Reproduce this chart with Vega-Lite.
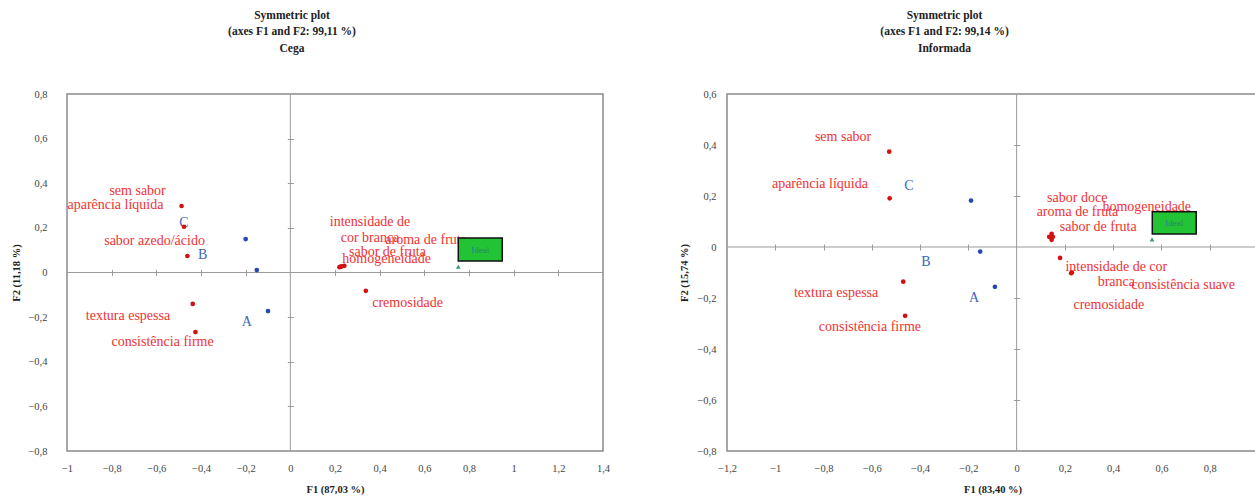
{
  "$schema": "https://vega.github.io/schema/vega-lite/v6.json",
  "background": "white",
  "padding": {"left": 11, "top": 8, "right": 0, "bottom": 0},
  "spacing": 68,
  "config": {
    "font": "Liberation Serif",
    "view": {"stroke": "#8a8a8a", "strokeWidth": 1.5},
    "axis": {
      "labelFont": "Liberation Serif", "labelFontSize": 10.5, "labelColor": "#444444",
      "titleFont": "Liberation Serif", "titleFontSize": 10.5, "titleFontWeight": "bold", "titleColor": "#222222",
      "labelFlush": false, "labelOverlap": false, "labelBound": false, "grid": false
    },
    "title": {"font": "Liberation Serif", "fontSize": 11.5, "fontWeight": "bold", "color": "#222222", "lineHeight": 16.5}
  },
  "datasets": {
    "one": [{"z": 0}],
    "ptsCega": [
      {"name": "sem sabor", "kind": "attr", "x": -0.487, "y": 0.298},
      {"name": "aparência líquida", "kind": "attr", "x": -0.476, "y": 0.205},
      {"name": "sabor azedo/ácido", "kind": "attr", "x": -0.461, "y": 0.074},
      {"name": "textura espessa", "kind": "attr", "x": -0.437, "y": -0.141},
      {"name": "consistência firme", "kind": "attr", "x": -0.425, "y": -0.267},
      {"name": "intensidade de cor branca", "kind": "attr", "x": 0.220, "y": 0.024},
      {"name": "aroma de fruta", "kind": "attr", "x": 0.242, "y": 0.030},
      {"name": "sabor de fruta", "kind": "attr", "x": 0.232, "y": 0.028},
      {"name": "homogeneidade", "kind": "attr", "x": 0.226, "y": 0.026},
      {"name": "cremosidade", "kind": "attr", "x": 0.338, "y": -0.082},
      {"name": "A", "kind": "prod", "x": -0.100, "y": -0.173},
      {"name": "B", "kind": "prod", "x": -0.150, "y": 0.011},
      {"name": "C", "kind": "prod", "x": -0.200, "y": 0.150},
      {"name": "Ideal", "kind": "ideal", "x": 0.752, "y": 0.026}
    ],
    "lblCega": [
      {"label": "sem sabor", "kind": "attr", "x": -0.684, "y": 0.365},
      {"label": "aparência líquida", "kind": "attr", "x": -0.783, "y": 0.303},
      {"label": "sabor azedo/ácido", "kind": "attr", "x": -0.608, "y": 0.141},
      {"label": "textura espessa", "kind": "attr", "x": -0.727, "y": -0.194},
      {"label": "consistência firme", "kind": "attr", "x": -0.572, "y": -0.312},
      {"label": "intensidade de\ncor branca", "kind": "attr", "x": 0.357, "y": 0.226},
      {"label": "aroma de fruta", "kind": "attr", "x": 0.608, "y": 0.146},
      {"label": "sabor de fruta", "kind": "attr", "x": 0.435, "y": 0.093},
      {"label": "homogeneidade", "kind": "attr", "x": 0.431, "y": 0.061},
      {"label": "cremosidade", "kind": "attr", "x": 0.525, "y": -0.135},
      {"label": "C", "kind": "prod", "x": -0.476, "y": 0.222},
      {"label": "B", "kind": "prod", "x": -0.392, "y": 0.078},
      {"label": "A", "kind": "prod", "x": -0.195, "y": -0.221}
    ],
    "boxCega": [{"label": "Ideal", "x1": 0.752, "x2": 0.949, "y1": 0.052, "y2": 0.155, "x": 0.850, "y": 0.103}],
    "ptsInf": [
      {"name": "sem sabor", "kind": "attr", "x": -0.528, "y": 0.374},
      {"name": "aparência líquida", "kind": "attr", "x": -0.526, "y": 0.191},
      {"name": "textura espessa", "kind": "attr", "x": -0.470, "y": -0.136},
      {"name": "consistência firme", "kind": "attr", "x": -0.462, "y": -0.270},
      {"name": "sabor doce", "kind": "attr", "x": 0.145, "y": 0.052},
      {"name": "aroma de fruta", "kind": "attr", "x": 0.135, "y": 0.040},
      {"name": "sabor de fruta", "kind": "attr", "x": 0.145, "y": 0.028},
      {"name": "homogeneidade", "kind": "attr", "x": 0.150, "y": 0.040},
      {"name": "intensidade de cor branca", "kind": "attr", "x": 0.180, "y": -0.043},
      {"name": "consistência suave", "kind": "attr", "x": 0.229, "y": -0.100},
      {"name": "cremosidade", "kind": "attr", "x": 0.226, "y": -0.103},
      {"name": "A", "kind": "prod", "x": -0.090, "y": -0.156},
      {"name": "B", "kind": "prod", "x": -0.151, "y": -0.018},
      {"name": "C", "kind": "prod", "x": -0.189, "y": 0.182},
      {"name": "Ideal", "kind": "ideal", "x": 0.561, "y": 0.030}
    ],
    "lblInf": [
      {"label": "sem sabor", "kind": "attr", "x": -0.719, "y": 0.430},
      {"label": "aparência líquida", "kind": "attr", "x": -0.815, "y": 0.247},
      {"label": "textura espessa", "kind": "attr", "x": -0.748, "y": -0.180},
      {"label": "consistência firme", "kind": "attr", "x": -0.608, "y": -0.315},
      {"label": "sabor doce", "kind": "attr", "x": 0.251, "y": 0.191},
      {"label": "aroma de fruta", "kind": "attr", "x": 0.252, "y": 0.136},
      {"label": "sabor de fruta", "kind": "attr", "x": 0.338, "y": 0.077},
      {"label": "homogeneidade", "kind": "attr", "x": 0.539, "y": 0.156},
      {"label": "intensidade de cor\nbranca", "kind": "attr", "x": 0.413, "y": -0.080},
      {"label": "consistência suave", "kind": "attr", "x": 0.690, "y": -0.149},
      {"label": "cremosidade", "kind": "attr", "x": 0.382, "y": -0.227},
      {"label": "C", "kind": "prod", "x": -0.446, "y": 0.240},
      {"label": "B", "kind": "prod", "x": -0.376, "y": -0.060},
      {"label": "A", "kind": "prod", "x": -0.176, "y": -0.201}
    ],
    "boxInf": [{"label": "Ideal", "x1": 0.562, "x2": 0.744, "y1": 0.051, "y2": 0.138, "x": 0.653, "y": 0.095}]
  },
  "hconcat": [
    {
      "width": 536, "height": 357,
      "title": {"text": ["Symmetric plot", "(axes F1 and F2: 99,11 %)", "Cega"], "anchor": "middle", "frame": "group", "dx": -43, "offset": 35},
      "resolve": {"axis": {"x": "independent", "y": "independent"}, "scale": {"color": "independent", "shape": "independent"}},
      "layer": [
        {
          "data": {"name": "one"},
          "mark": {"type": "rule", "color": "#9a9a9a", "strokeWidth": 1},
          "encoding": {
            "x": {"datum": 0, "type": "quantitative", "scale": {"domain": [-1, 1.4], "nice": false, "zero": false},
              "axis": {"orient": "bottom", "offset": -181.5, "labels": false, "domain": false, "ticks": true, "tickSize": 6, "tickColor": "#9a9a9a", "title": null,
                "values": [-0.8, -0.6, -0.4, -0.2, 0.2, 0.4, 0.6, 0.8, 1, 1.2]}}
          }
        },
        {
          "data": {"name": "one"},
          "mark": {"type": "rule", "color": "#9a9a9a", "strokeWidth": 1},
          "encoding": {
            "y": {"datum": 0, "type": "quantitative", "scale": {"domain": [-0.8, 0.8], "nice": false, "zero": false},
              "axis": {"orient": "left", "offset": -226.33, "labels": false, "domain": false, "ticks": true, "tickSize": 6, "tickColor": "#9a9a9a", "title": null,
                "values": [-0.6, -0.4, -0.2, 0.2, 0.4, 0.6]}}
          }
        },
        {
          "data": {"name": "lblCega"},
          "mark": {"type": "text", "fontSize": 14, "font": "Liberation Serif", "lineBreak": "\n", "lineHeight": 16, "baseline": "middle", "align": "center"},
          "encoding": {
            "x": {"field": "x", "type": "quantitative", "axis": null},
            "y": {"field": "y", "type": "quantitative", "axis": null},
            "text": {"field": "label"},
            "color": {"field": "kind", "type": "nominal", "scale": {"domain": ["attr", "prod"], "range": ["#f03232", "#3d66b8"]}, "legend": null}
          }
        },
        {
          "data": {"name": "ptsCega"},
          "mark": {"type": "point", "filled": true, "opacity": 1},
          "encoding": {
            "x": {"field": "x", "type": "quantitative",
              "axis": {"title": "F1 (87,03 %)", "orient": "bottom", "ticks": false, "tickSize": 0, "domain": false, "labelPadding": 12, "titlePadding": 11,
                "values": [-1, -0.8, -0.6, -0.4, -0.2, 0, 0.2, 0.4, 0.6, 0.8, 1, 1.2, 1.4],
                "labelExpr": "replace(format(datum.value, '~g'), '.', ',')"}},
            "y": {"field": "y", "type": "quantitative",
              "axis": {"title": "F2 (11,18 %)", "orient": "left", "ticks": false, "tickSize": 0, "domain": false, "labelPadding": 20, "titlePadding": 6,
                "values": [-0.8, -0.6, -0.4, -0.2, 0, 0.2, 0.4, 0.6, 0.8],
                "labelExpr": "replace(format(datum.value, '~g'), '.', ',')"}},
            "color": {"field": "kind", "type": "nominal", "scale": {"domain": ["attr", "prod", "ideal"], "range": ["#d41010", "#2447b0", "#3a9a6a"]}, "legend": null},
            "shape": {"field": "kind", "type": "nominal", "scale": {"domain": ["attr", "prod", "ideal"], "range": ["circle", "circle", "triangle-up"]}, "legend": null},
            "size": {"field": "kind", "type": "nominal", "scale": {"domain": ["attr", "prod", "ideal"], "range": [22, 22, 75]}, "legend": null}
          }
        },
        {
          "data": {"name": "boxCega"},
          "mark": {"type": "rect", "fill": "#22c435", "stroke": "#111111", "strokeWidth": 1.5},
          "encoding": {
            "x": {"field": "x1", "type": "quantitative", "axis": null},
            "x2": {"field": "x2"},
            "y": {"field": "y1", "type": "quantitative", "axis": null},
            "y2": {"field": "y2"}
          }
        },
        {
          "data": {"name": "boxCega"},
          "mark": {"type": "text", "fontSize": 9, "color": "#2a7f8a", "baseline": "middle", "align": "center"},
          "encoding": {
            "x": {"field": "x", "type": "quantitative", "axis": null},
            "y": {"field": "y", "type": "quantitative", "axis": null},
            "text": {"field": "label"}
          }
        }
      ]
    },
    {
      "width": 531, "height": 357,
      "title": {"text": ["Symmetric plot", "(axes F1 and F2: 99,14 %)", "Informada"], "anchor": "middle", "frame": "group", "dx": -48, "offset": 35},
      "resolve": {"axis": {"x": "independent", "y": "independent"}, "scale": {"color": "independent", "shape": "independent"}},
      "layer": [
        {
          "data": {"name": "one"},
          "mark": {"type": "rule", "color": "#9a9a9a", "strokeWidth": 1},
          "encoding": {
            "x": {"datum": 0, "type": "quantitative", "scale": {"domain": [-1.2, 1.0], "nice": false, "zero": false},
              "axis": {"orient": "bottom", "offset": -207, "labels": false, "domain": false, "ticks": true, "tickSize": 6, "tickColor": "#9a9a9a", "title": null,
                "values": [-1, -0.8, -0.6, -0.4, -0.2, 0.2, 0.4, 0.6, 0.8]}}
          }
        },
        {
          "data": {"name": "one"},
          "mark": {"type": "rule", "color": "#9a9a9a", "strokeWidth": 1},
          "encoding": {
            "y": {"datum": 0, "type": "quantitative", "scale": {"domain": [-0.8, 0.6], "nice": false, "zero": false},
              "axis": {"orient": "left", "offset": -292.64, "labels": false, "domain": false, "ticks": true, "tickSize": 6, "tickColor": "#9a9a9a", "title": null,
                "values": [-0.6, -0.4, -0.2, 0.2, 0.4]}}
          }
        },
        {
          "data": {"name": "lblInf"},
          "mark": {"type": "text", "fontSize": 14, "font": "Liberation Serif", "lineBreak": "\n", "lineHeight": 15, "baseline": "middle", "align": "center"},
          "encoding": {
            "x": {"field": "x", "type": "quantitative", "axis": null},
            "y": {"field": "y", "type": "quantitative", "axis": null},
            "text": {"field": "label"},
            "color": {"field": "kind", "type": "nominal", "scale": {"domain": ["attr", "prod"], "range": ["#f03232", "#3d66b8"]}, "legend": null}
          }
        },
        {
          "data": {"name": "ptsInf"},
          "mark": {"type": "point", "filled": true, "opacity": 1},
          "encoding": {
            "x": {"field": "x", "type": "quantitative",
              "axis": {"title": "F1 (83,40 %)", "orient": "bottom", "ticks": false, "tickSize": 0, "domain": false, "labelPadding": 12, "titlePadding": 11,
                "values": [-1.2, -1, -0.8, -0.6, -0.4, -0.2, 0, 0.2, 0.4, 0.6, 0.8, 1],
                "labelExpr": "replace(format(datum.value, '~g'), '.', ',')"}},
            "y": {"field": "y", "type": "quantitative",
              "axis": {"title": "F2 (15,74 %)", "orient": "left", "ticks": false, "tickSize": 0, "domain": false, "labelPadding": 11, "titlePadding": 7,
                "values": [-0.8, -0.6, -0.4, -0.2, 0, 0.2, 0.4, 0.6],
                "labelExpr": "replace(format(datum.value, '~g'), '.', ',')"}},
            "color": {"field": "kind", "type": "nominal", "scale": {"domain": ["attr", "prod", "ideal"], "range": ["#d41010", "#2447b0", "#3a9a6a"]}, "legend": null},
            "shape": {"field": "kind", "type": "nominal", "scale": {"domain": ["attr", "prod", "ideal"], "range": ["circle", "circle", "triangle-up"]}, "legend": null},
            "size": {"field": "kind", "type": "nominal", "scale": {"domain": ["attr", "prod", "ideal"], "range": [22, 22, 75]}, "legend": null}
          }
        },
        {
          "data": {"name": "boxInf"},
          "mark": {"type": "rect", "fill": "#22c435", "stroke": "#111111", "strokeWidth": 1.5},
          "encoding": {
            "x": {"field": "x1", "type": "quantitative", "axis": null},
            "x2": {"field": "x2"},
            "y": {"field": "y1", "type": "quantitative", "axis": null},
            "y2": {"field": "y2"}
          }
        },
        {
          "data": {"name": "boxInf"},
          "mark": {"type": "text", "fontSize": 9, "color": "#2a7f8a", "baseline": "middle", "align": "center"},
          "encoding": {
            "x": {"field": "x", "type": "quantitative", "axis": null},
            "y": {"field": "y", "type": "quantitative", "axis": null},
            "text": {"field": "label"}
          }
        }
      ]
    }
  ]
}
